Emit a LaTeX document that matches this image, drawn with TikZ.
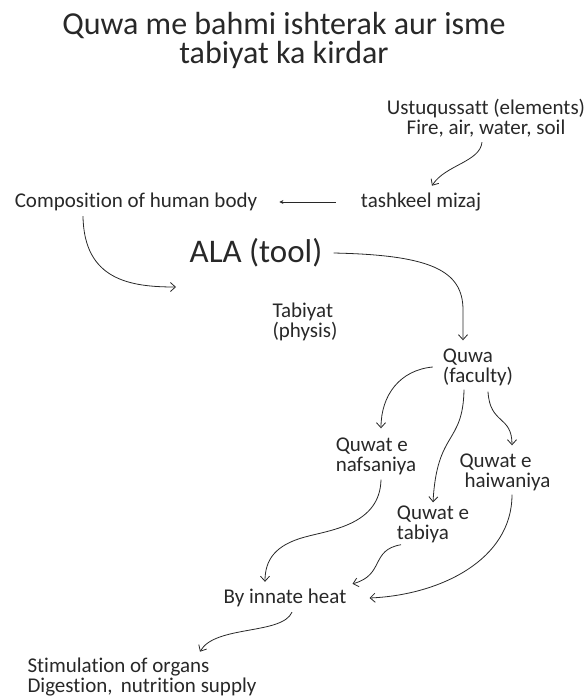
\documentclass[tikz,border=0pt]{standalone}
\usepackage{fontspec}
\setmainfont{Carlito}[Ligatures=NoCommon]
\usepackage{tikz}
\usetikzlibrary{arrows.meta}
\definecolor{inkgray}{RGB}{40,40,40}

\begin{document}
\begin{tikzpicture}[x=1pt, y=-1pt,
    txt/.style={inner sep=0pt, text=inkgray, font=\fontsize{21}{20}\selectfont},
    big/.style={inner sep=0pt, text=inkgray, font=\fontsize{32}{29}\selectfont},
    arr/.style={-{Straight Barb[length=5pt,width=9pt]}, draw=inkgray, line width=0.8pt},
    flat/.style={-{Stealth[length=4pt,width=4pt]}, draw=inkgray, line width=0.8pt}
]
\useasboundingbox (0,0) rectangle (586,697);
\node[big, align=center]  (title) at (284,40)  {Quwa me bahmi ishterak aur isme\\tabiyat ka kirdar};
\node[txt, align=center]  (ust)   at (486,118) {Ustuqussatt (elements)\\Fire, air, water, soil};
\node[txt]                (tash)  at (421,202) {tashkeel mizaj};
\node[txt]                (comp)  at (136,202) {Composition of human body};
\node[big, font=\fontsize{33}{30}\selectfont] (ala) at (256,253) {ALA (tool)};
\node[txt, align=left]    (tab)   at (305,322) {Tabiyat\\(physis)};
\node[txt, align=left]    (quwa)  at (478,367) {Quwa\\(faculty)};
\node[txt, align=left]    (nafs)  at (376,456) {Quwat e\\nafsaniya};
\node[txt, align=left]    (haiw)  at (505,472) {Quwat e\\\hspace{5pt}haiwaniya};
\node[txt, align=left]    (tabi)  at (433,524) {Quwat e\\tabiya};
\node[txt]                (heat)  at (285,598) {By innate heat};
\node[txt, align=left]    (stim)  at (142,677) {Stimulation of organs\\Digestion,\, nutrition supply};
\coordinate (toward) at (176,287);
% elements to mizaj to body
\draw[arr] ([xshift=-4pt,yshift=-5pt]ust.south) .. controls (480,162) and (445,165) .. ([xshift=11pt,yshift=7pt]tash.north);
\draw[flat] ([xshift=-25pt]tash.west) -- ([xshift=22pt]comp.east);
\draw[arr] ([xshift=-53pt,yshift=-5pt]comp.south) .. controls (84,280) and (130,287) .. (toward);
% tool to faculty
\draw[arr] ([xshift=11pt]ala.east) .. controls (430,255) and (463,270) .. (463,310) -- ([xshift=-15pt,yshift=8pt]quwa.north);
\draw[arr] ([xshift=-10pt]quwa.west) .. controls (400,370) and (381,395) .. ([xshift=5pt,yshift=9pt]nafs.north);
\draw[arr] ([xshift=-14pt,yshift=-4pt]quwa.south) .. controls (463,445) and (437,430) .. ([yshift=3pt]tabi.north);
\draw[arr] ([xshift=10pt,yshift=-6pt]quwa.south) .. controls (490,425) and (512,415) .. ([xshift=7pt,yshift=8pt]haiw.north);
% into innate heat
\draw[arr] ([xshift=5pt,yshift=-5pt]nafs.south) .. controls (380,525) and (330,530) .. (305,537) .. controls (275,545) and (265,560) .. ([xshift=-20pt,yshift=7pt]heat.north);
\draw[arr] ([xshift=-32pt,yshift=-2pt]tabi.south) .. controls (370,550) and (385,575) .. ([xshift=6pt,yshift=5pt]heat.north east);
\draw[arr] ([xshift=7pt,yshift=-4pt]haiw.south) .. controls (512,560) and (440,595) .. ([xshift=23pt]heat.east);
\draw[arr] ([xshift=7pt,yshift=-5pt]heat.south) .. controls (282,635) and (215,625) .. ([xshift=58pt,yshift=6pt]stim.north);
\end{tikzpicture}
\end{document}
